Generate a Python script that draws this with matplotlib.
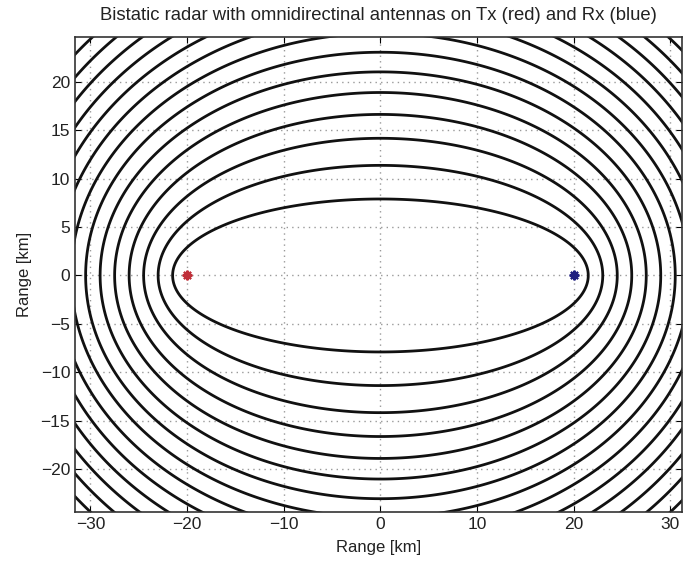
import numpy as np
import matplotlib.pyplot as plt

plt.rcParams['font.family'] = ['Liberation Sans', 'DejaVu Sans']

# transmitter / receiver positions [km]
tx_pos = (-20.0, 0.0)
rx_pos = (20.0, 0.0)

# constant bistatic range levels (Tx->target + target->Rx) [km]
range_levels = [43, 46, 49, 52, 55, 58, 61, 64, 67, 70, 73, 76, 79, 82, 85]

x_ticks = [-30, -20, -10, 0, 10, 20, 30]
y_ticks = [-20, -15, -10, -5, 0, 5, 10, 15, 20]


def main():
    fig = plt.figure(figsize=(6.83, 5.65), dpi=100)
    ax = fig.add_axes([75 / 683, 1 - 512 / 565, 607 / 683, 475 / 565])

    x = np.linspace(-32, 32, 801)
    y = np.linspace(-25, 25, 641)
    X, Y = np.meshgrid(x, y)
    bistatic = np.hypot(X - tx_pos[0], Y - tx_pos[1]) + np.hypot(X - rx_pos[0], Y - rx_pos[1])

    ax.contour(X, Y, bistatic, levels=range_levels, colors='#111111', linewidths=2.0)
    ax.plot(*tx_pos, marker=(8, 2, 0), color='#c0303a', markersize=7, mew=1.5)
    ax.plot(*rx_pos, marker=(8, 2, 0), color='#202080', markersize=7, mew=1.5)

    ax.set_xlim(-31.6, 31.2)
    ax.set_ylim(-24.4, 24.6)
    ax.set_xticks(x_ticks)
    ax.set_yticks(y_ticks)
    ax.grid(True, linestyle=(0, (1, 3)), color='#999999', linewidth=1.0)
    ax.tick_params(direction='in', top=True, right=True, labelsize=12.5, length=4,
                   labelcolor='#222222')
    for s in ax.spines.values():
        s.set_linewidth(1.2)
        s.set_color('#333333')

    ax.set_xlabel('Range [km]', fontsize=12, labelpad=6, color='#222222')
    ax.set_ylabel('Range [km]', fontsize=12, labelpad=6, color='#222222')
    ax.set_title('Bistatic radar with omnidirectinal antennas on Tx (red) and Rx (blue)',
                 fontsize=13.3, pad=12, color='#222222')

    fig.savefig('out.png', dpi=100)


if __name__ == "__main__":
    main()
